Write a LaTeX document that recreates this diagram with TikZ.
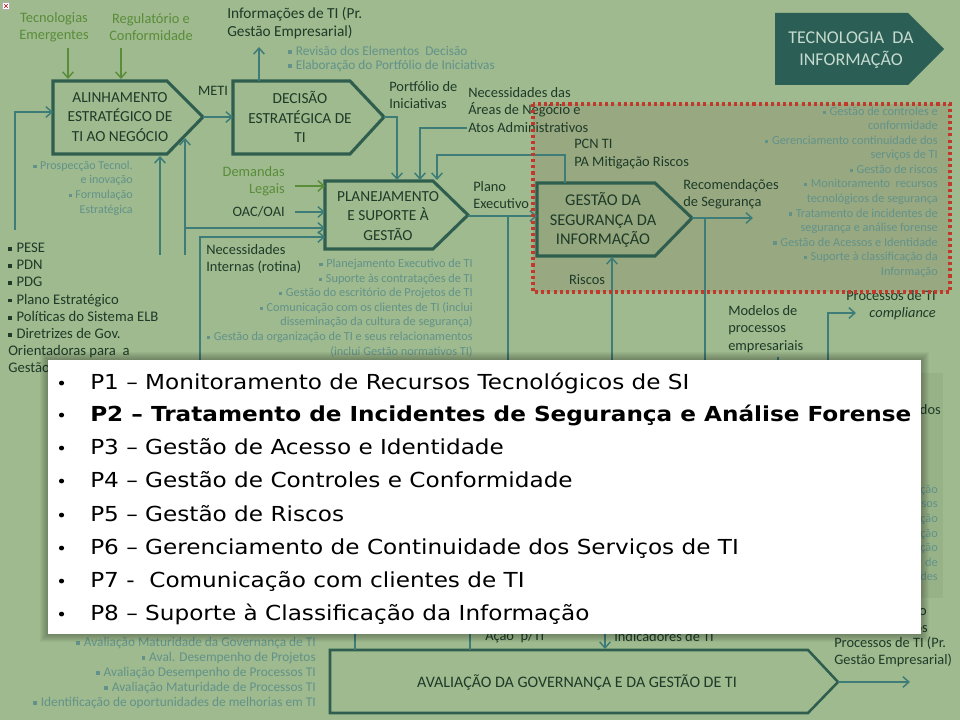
\documentclass[tikz,border=0pt]{standalone}
\usepackage{fontspec}
\setmainfont{Carlito}
\newfontfamily\listfont[FakeStretch=1.12]{DejaVu Sans}
\usetikzlibrary{arrows.meta}
\definecolor{bgc}{HTML}{9EBA8E}
\definecolor{dashfill}{HTML}{98A981}
\definecolor{gesfill}{HTML}{95A77E}
\definecolor{panelc}{HTML}{98B288}
\definecolor{boxline}{HTML}{2F5E4F}
\definecolor{arrc}{HTML}{3E7C77}
\definecolor{greenc}{HTML}{5A8C3A}
\definecolor{darkc}{HTML}{1E3A28}
\definecolor{bulc}{HTML}{62928A}
\definecolor{tealc}{HTML}{2B5F55}
\definecolor{tealtxt}{HTML}{C6DACF}
\definecolor{redc}{HTML}{C0392B}
\newcommand{\bsq}{\rule[0.25ex]{0.55ex}{0.55ex}\hspace{0.3em}}
\tikzset{
  arr/.style={draw=arrc, line width=1.1pt, -{Straight Barb[length=4.5pt,width=8pt]}},
  garr/.style={arr, draw=greenc},
  plainline/.style={draw=arrc, line width=1.1pt},
  pentbox/.style={draw=boxline, line width=2.3pt, line join=miter},
  boxtxt/.style={font=\fontsize{11.5}{14.5}\selectfont, text=darkc, align=center, inner sep=0pt},
  lbl/.style={font=\fontsize{10.8}{13.1}\selectfont, text=darkc, align=left, inner sep=0pt},
  glbl/.style={lbl, text=greenc},
  bul/.style={font=\fontsize{9.2}{10.9}\selectfont, text=bulc, align=right, inner sep=0pt},
  pese/.style={font=\fontsize{11}{12.9}\selectfont, text=darkc, align=left, inner sep=0pt},
  item/.style={font=\listfont\fontsize{15.5}{18}\selectfont, text=black, anchor=base west, inner sep=0pt},
  itembul/.style={font=\listfont\fontsize{12}{13}\selectfont, text=black, anchor=base west, inner sep=0pt},
}
\begin{document}
\begin{tikzpicture}[x=0.75pt,y=-0.75pt]
\useasboundingbox (0,0) rectangle (960,720);
\fill[bgc] (0,0) rectangle (960,720);

% tiny broken-image icon
\node[draw=gray!60, fill=white, minimum width=5pt, minimum height=5pt, inner sep=0pt] (icon) at (6,6) {};
\draw[red!70!black, line width=0.4pt] (4.3,4.3) -- (7.7,7.7) (4.3,7.7) -- (7.7,4.3);

% TECNOLOGIA DA INFORMACAO
\fill[tealc] (775,13) -- (908,13) -- (944,49) -- (908,85) -- (775,85) -- cycle;
\node[font=\fontsize{13.5}{16.5}\selectfont, text=tealtxt, align=center, inner sep=0pt] (tec) at (851,50) {TECNOLOGIA~ DA\\INFORMAÇÃO};

% dashed region fill
\fill[dashfill] (533,104) rectangle (950,292);

% hidden right panel
\fill[panelc] (700,373) rectangle (943,598);

% pentagon boxes
\draw[pentbox, fill=bgc] (53,81) -- (167,81) -- (203,117) -- (167,154) -- (53,154) -- cycle;
\coordinate (alinTip) at (203,117);
\node[boxtxt] (alin) at (120,117) {ALINHAMENTO\\ESTRATÉGICO DE\\TI AO NEGÓCIO};

\draw[pentbox, fill=bgc] (233,81) -- (350,81) -- (384,117) -- (350,154) -- (233,154) -- cycle;
\coordinate (deciTip) at (384,117);
\coordinate (deciW) at (233,117);
\node[boxtxt] (deci) at (300,117) {DECISÃO\\ESTRATÉGICA DE\\TI};

\draw[pentbox, fill=bgc] (325,181) -- (433,181) -- (468,215) -- (433,249) -- (325,249) -- cycle;
\coordinate (planTip) at (468,215);
\node[boxtxt] (plan) at (388,216) {PLANEJAMENTO\\E SUPORTE À\\GESTÃO};

\draw[pentbox, fill=gesfill] (537,183) -- (655,183) -- (692,218) -- (655,256) -- (537,256) -- cycle;
\coordinate (gestTip) at (692,218);
\node[boxtxt, font=\fontsize{12.3}{14.6}\selectfont] (gest) at (603,220) {GESTÃO DA\\SEGURANÇA DA\\INFORMAÇÃO};

\draw[pentbox, line width=1.9pt, fill=bgc] (330,650) -- (808,650) -- (838,682) -- (808,713) -- (330,713) -- cycle;
\coordinate (avalTip) at (838,682);
\node[boxtxt, font=\fontsize{12}{13}\selectfont] (aval) at (577,682) {AVALIAÇÃO DA GOVERNANÇA E DA GESTÃO DE TI};

% connectors
\coordinate (tecIn1) at (68,48);  \coordinate (alinT1) at (68,79);
\coordinate (tecIn2) at (121,48); \coordinate (alinT2) at (121,79);
\draw[garr] (tecIn1) -- (alinT1);
\draw[garr] (tecIn2) -- (alinT2);
\draw[arr] (alinTip) -- (deciW);
\coordinate (deciTop) at (259,81); \coordinate (infoOut) at (259,47);
\draw[arr] (deciTop) -- (infoOut);
\coordinate (planIn1) at (397,180);
\draw[arr] (deciTip) -- (397,117) -- (planIn1);
\coordinate (necA) at (467,128); \coordinate (planIn2) at (420,180);
\draw[arr] (necA) -| (planIn2);
\coordinate (gestTop) at (565,183); \coordinate (planIn3) at (437,180);
\draw[arr] (gestTop) -- (565,155) -- (437,155) -- (planIn3);
\coordinate (gestW) at (537,216);
\draw[arr] (planTip |- gestW) -- (gestW);
\coordinate (pe1) at (508,216); \coordinate (pe2) at (508,362);
\draw[plainline] (pe1) -- (pe2);
\coordinate (demA) at (295,186); \coordinate (planL1) at (325,186);
\draw[garr] (demA) -- (planL1);
\coordinate (oacA) at (295,212); \coordinate (planL2) at (325,212);
\draw[arr] (oacA) -- (planL2);
\coordinate (fb1) at (185,228); \coordinate (planL3) at (325,228);
\draw[arr] (fb1) -- (planL3);
\coordinate (fb2a) at (185,255); \coordinate (alinSl) at (185,138);
\draw[arr] (fb2a) -- (alinSl);
\coordinate (fb3a) at (160,255); \coordinate (alinB) at (160,156);
\draw[arr] (fb3a) -- (alinB);
\coordinate (lf1) at (15,230); \coordinate (alinW) at (53,112);
\draw[arr] (lf1) |- (alinW);
\coordinate (ni1) at (200,362); \coordinate (planL4) at (325,237);
\draw[arr] (ni1) |- (planL4);
\coordinate (ris1) at (612,362); \coordinate (gestB) at (612,257);
\draw[arr] (ris1) -- (gestB);
\coordinate (recOut) at (753,218);
\draw[arr] (gestTip) -- (recOut);
\coordinate (rv1) at (705,218); \coordinate (rv2) at (705,362);
\draw[plainline] (rv1) -- (rv2);
\coordinate (cp1) at (828,362); \coordinate (cpOut) at (856,313);
\draw[arr] (cp1) |- (cpOut);
\coordinate (me1) at (778,357); \coordinate (me2) at (778,362);
\draw[plainline] (me1) -- (me2);
\coordinate (bl1) at (355,630); \coordinate (avT1) at (355,650);
\coordinate (bl2) at (470,630); \coordinate (avT2) at (470,650);
\draw[plainline] (bl1) -- (avT1);
\draw[plainline] (bl2) -- (avT2);
\coordinate (ind1) at (605,630); \coordinate (avT3) at (605,649);
\draw[arr] (ind1) -- (avT3);
\coordinate (avOut) at (910,682);
\draw[arr] (avalTip) -- (avOut);

% labels
\node[glbl, align=center] (tecem) at (54,27) {Tecnologias\\Emergentes};
\node[glbl, align=center] (regul) at (151,27) {Regulatório e\\Conformidade};
\node[lbl, anchor=west, font=\fontsize{11.5}{13.3}\selectfont] (infoti) at (227,23) {Informações de TI (Pr.\\Gestão Empresarial)};
\node[bul, anchor=west, align=left, font=\fontsize{10}{10.5}\selectfont] (decbul) at (288,59) {\bsq Revisão dos Elementos~ Decisão\\\bsq Elaboração do Portfólio de Iniciativas};
\node[lbl] (meti) at (213,91) {METI};
\node[lbl, anchor=west] (portf) at (389,95) {Portfólio de\\Iniciativas};
\node[lbl, anchor=west] (necar) at (468,110) {Necessidades das\\Áreas de Negócio e\\Atos Administrativos};
\node[lbl, anchor=west] (pcn) at (574,154) {PCN TI\\PA Mitigação Riscos};
\node[lbl, anchor=west] (plex) at (473,195) {Plano\\Executivo};
\node[glbl, anchor=east, align=right] (deml) at (285,181) {Demandas\\Legais};
\node[lbl, anchor=east] (oac) at (285,212) {OAC/OAI};
\node[bul, anchor=east, font=\fontsize{9}{11}\selectfont] (alinbul) at (133,188) {\bsq Prospecção Tecnol.\\e inovação\\\bsq Formulação\\Estratégica};
\node[lbl, anchor=west] (necint) at (206,259) {Necessidades\\Internas (rotina)};
\node[bul, anchor=east] (planbul) at (473,308) {\bsq Planejamento Executivo de TI\\\bsq Suporte às contratações de TI\\\bsq Gestão do escritório de Projetos de TI\\\bsq Comunicação com os clientes de TI (inclui\\disseminação da cultura de segurança)\\\bsq Gestão da organização de TI e seus relacionamentos\\(inclui Gestão normativos TI)};
\node[pese, anchor=west] (pese) at (8,308) {\bsq PESE\\\bsq PDN\\\bsq PDG\\\bsq Plano Estratégico\\\bsq Políticas do Sistema ELB\\\bsq Diretrizes de Gov.\\Orientadoras para~ a\\Gestão};
\node[bul, anchor=east] (gesbul) at (938,192) {\bsq Gestão de controles e\\conformidade\\\bsq Gerenciamento continuidade dos\\serviços de TI\\\bsq Gestão de riscos\\\bsq Monitoramento~ recursos\\tecnológicos de segurança\\\bsq Tratamento de incidentes de\\segurança e análise forense\\\bsq Gestão de Acessos e Identidade\\\bsq Suporte à classificação da\\Informação};
\node[lbl] (riscos) at (587,280) {Riscos};
\node[lbl, anchor=west] (recom) at (683,194) {Recomendações\\de Segurança};
\node[lbl, anchor=east, align=right] (proccomp) at (936,305) {Processos de TI\\\textit{compliance}};
\node[lbl, anchor=west] (model) at (728,329) {Modelos de\\processos\\empresariais};
\node[lbl, anchor=east] (frdos) at (941,410) {dos};
\node[bul, anchor=east] (frag) at (938,533) {ção\\sos\\ção\\ção\\ção\\de\\des};
\node[lbl, anchor=east] (fro1) at (927,612) {o};
\node[lbl, anchor=east] (fro2) at (928,629) {os};
\node[lbl, anchor=west] (procpr) at (834,652) {Processos de TI (Pr.\\Gestão Empresarial)};
\node[lbl, anchor=west] (acao) at (485,637) {Ação~ p/TI};
\node[lbl, anchor=west] (indic) at (614,637) {Indicadores de TI};
\node[bul, anchor=east, font=\fontsize{10}{11.25}\selectfont] (avbul) at (316,673) {\bsq Avaliação Maturidade da Governança de TI\\\bsq Aval. Desempenho de Projetos\\\bsq Avaliação Desempenho de Processos TI\\\bsq Avaliação Maturidade de Processos TI\\\bsq Identificação de oportunidades de melhorias em TI};

% dashed border on top
\draw[redc, line width=2.3pt, dash pattern=on 2.3pt off 2.3pt] (533,104) rectangle (950,292);

% overlay with shadow
\foreach \i in {1,...,8} {
  \fill[black, opacity=0.035] ({48-\i},{360-\i}) rectangle ({921+\i},{634+\i});
}
\node[fill=white, minimum width=654.75pt, minimum height=205.5pt, inner sep=0pt, anchor=north west] (overlay) at (48,360) {};

\foreach \yy/\nm/\txt in {389/p1/{P1 – Monitoramento de Recursos Tecnológicos de SI},
  454/p3/{P3 – Gestão de Acesso e Identidade},
  487/p4/{P4 – Gestão de Controles e Conformidade},
  521/p5/{P5 – Gestão de Riscos},
  554/p6/{P6 – Gerenciamento de Continuidade dos Serviços de TI},
  587/p7/{P7 -~ Comunicação com clientes de TI},
  620/p8/{P8 – Suporte à Classificação da Informação}} {
  \node[itembul] (b\nm) at (56,\yy) {•};
  \node[item] (\nm) at (90,\yy) {\txt};
}
\node[itembul] (bp2) at (56,421) {•};
\node[item, font=\listfont\bfseries\fontsize{15.5}{18}\selectfont] (p2) at (90,421) {P2 – Tratamento de Incidentes de Segurança e Análise Forense};
\end{tikzpicture}
\end{document}
